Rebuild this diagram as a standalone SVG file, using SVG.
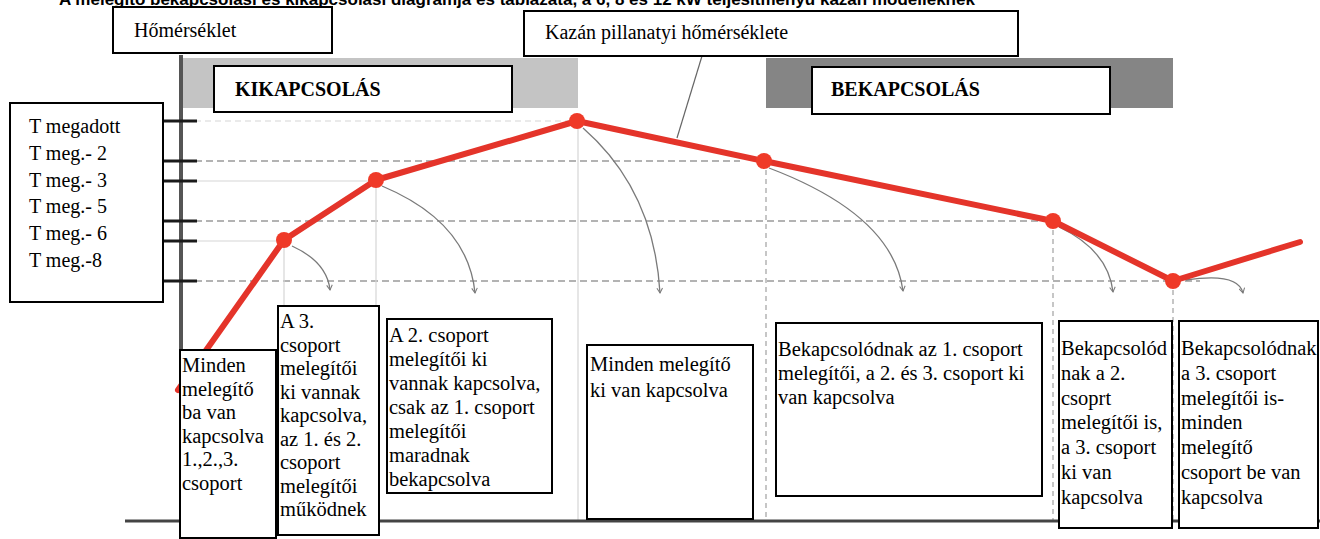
<svg xmlns="http://www.w3.org/2000/svg" width="1320" height="539" viewBox="0 0 1320 539">
<defs>
<style>
.t{font-family:"Liberation Serif","Times New Roman",serif;font-size:20.5px;fill:#000}
.lg{font-family:"Liberation Serif","Times New Roman",serif;font-size:20px;fill:#000}
.hb{font-family:"Liberation Serif","Times New Roman",serif;font-size:20px;font-weight:bold;fill:#000}
.title{font-family:"Liberation Sans",Arial,sans-serif;font-size:17px;font-weight:bold;fill:#000}
.box{fill:#fff;stroke:#000;stroke-width:2}
.dash{stroke:#9a9a9a;stroke-width:1.3;stroke-dasharray:7 4;fill:none}
.faint{stroke:#d6d6d6;stroke-width:1.2;fill:none}
.vd{stroke:#a8a8a8;stroke-width:1.3;stroke-dasharray:5 4;fill:none}
.tick{stroke:#1a1a1a;stroke-width:3}
.arc{stroke:#7a7a7a;stroke-width:1.3;fill:none;marker-end:url(#ah)}
.red{stroke:#e4342a;stroke-width:6;fill:none;stroke-linejoin:round;stroke-linecap:round}
.dot{fill:#ef3a28}
</style>
<marker id="ah" viewBox="0 0 10 10" refX="8" refY="5" markerWidth="7" markerHeight="7" orient="auto" markerUnits="userSpaceOnUse">
<path d="M1,1 L8,5 L1,9" fill="none" stroke="#7a7a7a" stroke-width="1.5"/>
</marker>
</defs>
<rect width="1320" height="539" fill="#fff"/>

<text class="title" x="59" y="5">A melegítő bekapcsolási és kikapcsolási diagramja és táblázata, a 6, 8 és 12 kW teljesítményű kazán modelleknek</text>

<g id="grid">
<line class="faint" x1="195" y1="121" x2="577" y2="121" style="stroke-dasharray:6 4"/>
<line class="dash" x1="195" y1="161" x2="740" y2="161"/>
<line class="faint" x1="195" y1="181" x2="376" y2="181"/>
<line class="dash" x1="195" y1="221" x2="1053" y2="221"/>
<line class="faint" x1="195" y1="241" x2="284" y2="241"/>
<line class="dash" x1="195" y1="281" x2="1200" y2="281"/>
<line class="faint" x1="284" y1="241" x2="284" y2="520"/>
<line class="faint" x1="376" y1="181" x2="376" y2="520"/>
<line class="faint" x1="578" y1="121" x2="578" y2="520"/>
<line class="vd" x1="766" y1="161" x2="766" y2="520"/>
<line class="vd" x1="1053" y1="221" x2="1053" y2="520"/>
<line class="vd" x1="1173" y1="281" x2="1173" y2="520"/>
</g>

<g id="bars">
<rect x="182" y="58" width="396" height="50" fill="#c4c4c4"/>
<rect x="766" y="58" width="407" height="50" fill="#858585"/>
</g>

<g id="axes">
<line x1="181" y1="55" x2="181" y2="521" stroke="#555" stroke-width="4"/>
<line x1="125" y1="521" x2="1320" y2="521" stroke="#444" stroke-width="3"/>
<line class="tick" x1="160" y1="121" x2="197" y2="121"/>
<line class="tick" x1="160" y1="161" x2="197" y2="161"/>
<line class="tick" x1="160" y1="181" x2="197" y2="181"/>
<line class="tick" x1="160" y1="221" x2="197" y2="221"/>
<line class="tick" x1="160" y1="241" x2="197" y2="241"/>
<line class="tick" x1="160" y1="281" x2="197" y2="281"/>
</g>

<g id="connectors">
<line x1="702" y1="56" x2="677" y2="138" stroke="#666" stroke-width="1.2"/>
<path class="arc" d="M292 246 Q327 262 330 290"/>
<path class="arc" d="M382 186 Q468 222 475 293"/>
<path class="arc" d="M583 128 Q654 190 660 293"/>
<path class="arc" d="M769 168 Q893 215 903 291"/>
<path class="arc" d="M1059 227 Q1108 250 1113 292"/>
<path class="arc" d="M1186 280 Q1238 272 1243 293"/>
<polyline class="red" points="178,390 284,240 376,180 577,121 764,161 1053,221 1173,281 1300,242"/>
<circle class="dot" cx="284" cy="240" r="8"/>
<circle class="dot" cx="376" cy="180" r="8"/>
<circle class="dot" cx="577" cy="121" r="8"/>
<circle class="dot" cx="764" cy="161" r="8"/>
<circle class="dot" cx="1053" cy="221" r="8"/>
<circle class="dot" cx="1173" cy="281" r="8"/>
</g>

<g id="homerseklet">
<rect class="box" x="113" y="7" width="219" height="46"/>
<text class="lg" x="134" y="37">Hőmérséklet</text>
</g>

<g id="kazan">
<rect class="box" x="524" y="11" width="494" height="45"/>
<text class="lg" x="545" y="39">Kazán pillanatyi hőmérséklete</text>
</g>

<g id="kikapcsolas">
<rect class="box" x="214" y="66" width="298" height="46"/>
<text class="hb" x="235" y="96">KIKAPCSOLÁS</text>
</g>

<g id="bekapcsolas">
<rect class="box" x="812" y="67" width="298" height="47"/>
<text class="hb" x="831" y="96">BEKAPCSOLÁS</text>
</g>

<g id="legend">
<rect class="box" x="10" y="103" width="153" height="199"/>
<text class="lg"><tspan x="29" y="133">T megadott</tspan><tspan x="29" y="160">T meg.- 2</tspan><tspan x="29" y="187">T meg.- 3</tspan><tspan x="29" y="213">T meg.- 5</tspan><tspan x="29" y="240">T meg.- 6</tspan><tspan x="29" y="267">T meg.-8</tspan></text>
</g>

<g id="box1">
<rect class="box" x="180" y="350" width="96" height="188"/>
<text class="t"><tspan x="182" y="372">Minden</tspan><tspan x="182" dy="23.6">melegítő</tspan><tspan x="182" dy="23.6">ba van</tspan><tspan x="182" dy="23.6">kapcsolva</tspan><tspan x="182" dy="23.6">1.,2.,3.</tspan><tspan x="182" dy="23.6">csoport</tspan></text>
</g>

<g id="box2">
<rect class="box" x="278" y="306" width="101" height="229"/>
<text class="t"><tspan x="280" y="328">A 3.</tspan><tspan x="280" dy="23.5">csoport</tspan><tspan x="280" dy="23.5">melegítői</tspan><tspan x="280" dy="23.5">ki vannak</tspan><tspan x="280" dy="23.5">kapcsolva,</tspan><tspan x="280" dy="23.5">az 1. és 2.</tspan><tspan x="280" dy="23.5">csoport</tspan><tspan x="280" dy="23.5">melegítői</tspan><tspan x="280" dy="23.5">működnek</tspan></text>
</g>

<g id="box3">
<rect class="box" x="387" y="319" width="165" height="174"/>
<text class="t"><tspan x="389" y="342">A 2. csoport</tspan><tspan x="389" dy="24">melegítői ki</tspan><tspan x="389" dy="24">vannak kapcsolva,</tspan><tspan x="389" dy="24">csak az 1. csoport</tspan><tspan x="389" dy="24">melegítői</tspan><tspan x="389" dy="24">maradnak</tspan><tspan x="389" dy="24">bekapcsolva</tspan></text>
</g>

<g id="box4">
<rect class="box" x="587" y="345" width="166" height="174"/>
<text class="t"><tspan x="590" y="371">Minden melegítő</tspan><tspan x="590" dy="25.7">ki van kapcsolva</tspan></text>
</g>

<g id="box5">
<rect class="box" x="776" y="323" width="266" height="173"/>
<text class="t"><tspan x="778" y="356">Bekapcsolódnak az 1. csoport</tspan><tspan x="778" dy="24">melegítői, a 2. és 3. csoport ki</tspan><tspan x="778" dy="24">van kapcsolva</tspan></text>
</g>

<g id="box6">
<rect class="box" x="1059" y="321" width="113" height="207"/>
<text class="t"><tspan x="1061" y="355">Bekapcsolód</tspan><tspan x="1061" dy="24.8">nak a 2.</tspan><tspan x="1061" dy="24.8">csoprt</tspan><tspan x="1061" dy="24.8">melegítői is,</tspan><tspan x="1061" dy="24.8">a 3. csoport</tspan><tspan x="1061" dy="24.8">ki van</tspan><tspan x="1061" dy="24.8">kapcsolva</tspan></text>
</g>

<g id="box7">
<rect class="box" x="1179" y="321" width="139" height="207"/>
<text class="t"><tspan x="1181" y="355">Bekapcsolódnak</tspan><tspan x="1181" dy="24.8">a 3. csoport</tspan><tspan x="1181" dy="24.8">melegítői is-</tspan><tspan x="1181" dy="24.8">minden</tspan><tspan x="1181" dy="24.8">melegítő</tspan><tspan x="1181" dy="24.8">csoport be van</tspan><tspan x="1181" dy="24.8">kapcsolva</tspan></text>
</g>
</svg>
